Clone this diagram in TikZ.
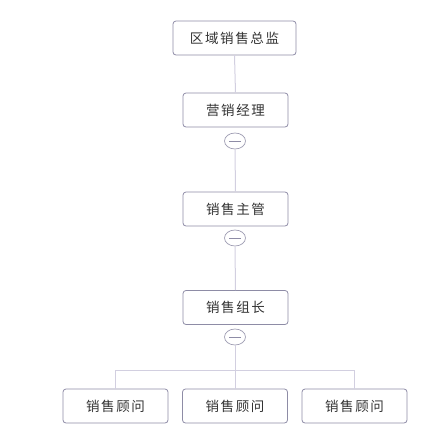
\documentclass[tikz,border=0pt]{standalone}
\usepackage{fontspec}
\newfontfamily\cjk[LetterSpace=12]{Noto Sans CJK SC}
\usetikzlibrary{shapes.geometric}
\definecolor{boxline}{HTML}{8E8CA6}
\definecolor{conn}{HTML}{D2CFE0}
\definecolor{txt}{HTML}{333333}
\tikzset{
  role/.style={draw=boxline, line width=0.8pt, rounded corners=3pt, fill=white,
    minimum width=105pt, minimum height=34pt, inner sep=0pt,
    font=\cjk\fontsize{13.5}{15}\selectfont, text=txt},
  wide/.style={role, minimum width=123pt},
  toggle/.style={draw=boxline!85, line width=0.7pt, ellipse, fill=white,
    minimum width=21pt, minimum height=16pt, inner sep=0pt},
  link/.style={draw=conn, line width=1pt}
}
\begin{document}
\begin{tikzpicture}[x=1pt,y=-1pt]
\useasboundingbox (0,0) rectangle (427,437);
\node[wide] (top) at (234.5,38) {区域销售总监};
\node[role] (m) at (235.5,110) {营销经理};
\node[toggle] (c1) at (235,141) {};
\node[role] (s) at (235.5,209) {销售主管};
\node[toggle] (c2) at (235,238) {};
\node[role] (g) at (235.5,307.5) {销售组长};
\node[toggle] (c3) at (235,337) {};
\node[role] (a1) at (115.5,406) {销售顾问};
\node[role] (a2) at (235,406) {销售顾问};
\node[role] (a3) at (354.5,406) {销售顾问};
\coordinate (h) at (235,370);
\foreach \c in {c1,c2,c3} {\draw[boxline, line width=0.8pt] ([xshift=-6pt]\c.center) -- ([xshift=6pt]\c.center);}
\draw[link] (top.south) -- (m.north);
\draw[link] (c1.south) -- (s.north);
\draw[link] (c2.south) -- (g.north);
\draw[link] (c3.south) -- (a2.north);
\draw[link] (a1.north) -- (a1.north |- h) -- (a3.north |- h) -- (a3.north);
\end{tikzpicture}
\end{document}
